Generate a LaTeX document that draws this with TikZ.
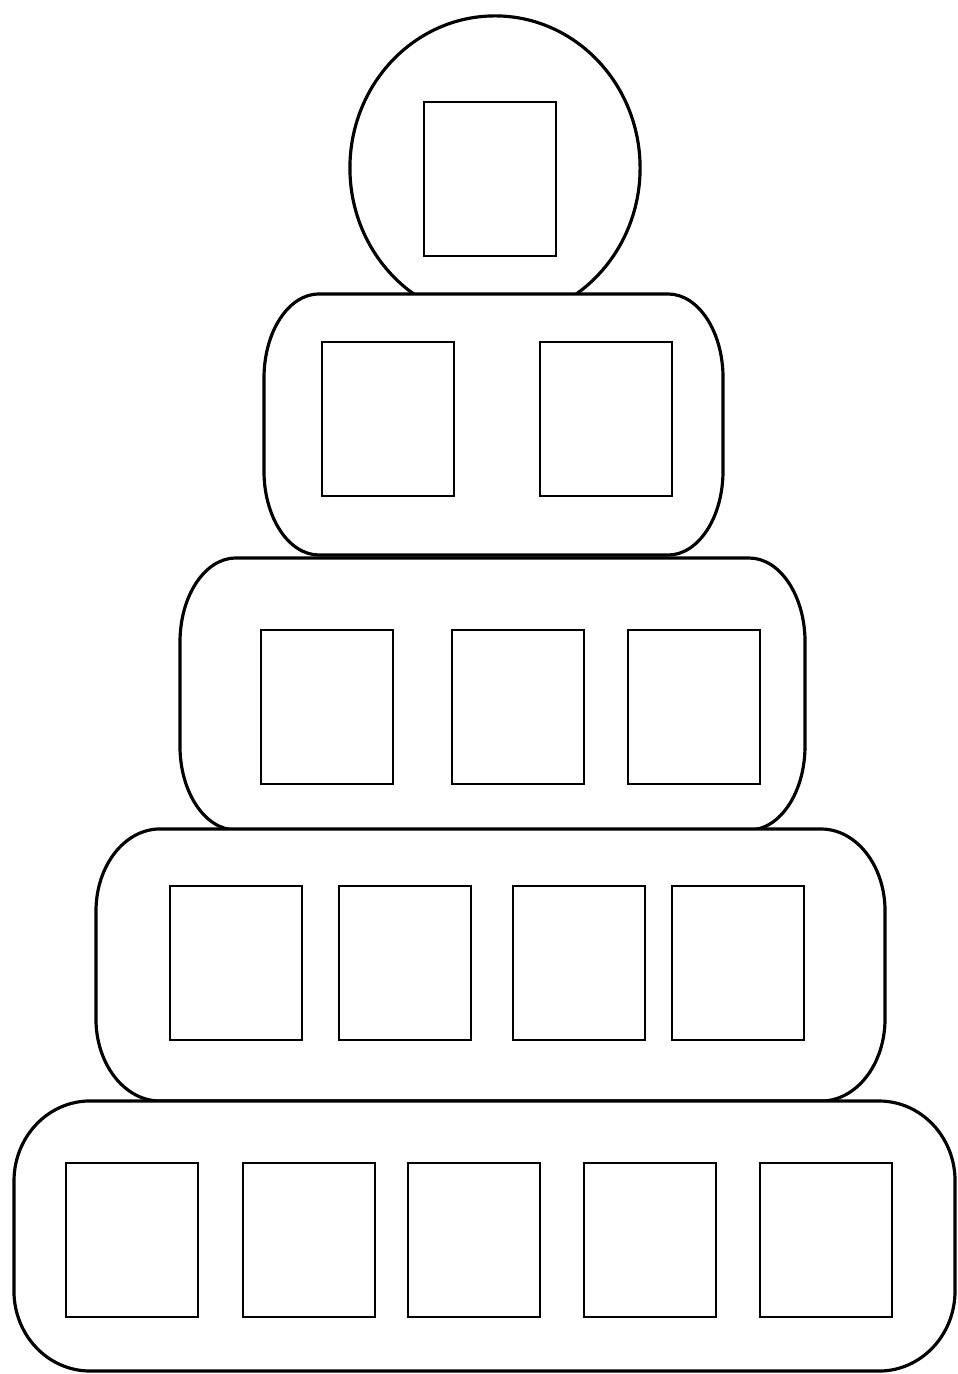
\documentclass[tikz,border=0pt]{standalone}
% one ring of the stack: corners x1,y1,x2,y2 and corner radii rx,ry (cm)
\newcommand{\ringpath}[6]{%
  \draw[ring] (#1,#2+#6*100) arc[start angle=180,end angle=90,x radius=#5cm,y radius=#6cm]
    -- (#3-#5*100,#2) arc[start angle=90,end angle=0,x radius=#5cm,y radius=#6cm]
    -- (#3,#4-#6*100) arc[start angle=0,end angle=-90,x radius=#5cm,y radius=#6cm]
    -- (#1+#5*100,#4) arc[start angle=-90,end angle=-180,x radius=#5cm,y radius=#6cm]
    -- cycle;}
\begin{document}
\begin{tikzpicture}[x=0.01cm,y=-0.01cm]
\tikzset{ring/.style={draw,line width=0.9pt,fill=white},
         slot/.style={draw,line width=0.6pt}}
\useasboundingbox (0,0) rectangle (957,1374);

% top ball
\draw[line width=0.9pt,fill=white] (495,168) ellipse [x radius=1.45cm,y radius=1.52cm];
\draw[slot] (424,102) rectangle (556,256);

% rings, top to bottom
\ringpath{264}{294}{723}{555}{0.55}{0.84}
\draw[slot] (322,342) rectangle (454,496);
\draw[slot] (540,342) rectangle (672,496);

\ringpath{180}{558}{805}{830}{0.56}{0.84}
\draw[slot] (261,630) rectangle (393,784);
\draw[slot] (452,630) rectangle (584,784);
\draw[slot] (628,630) rectangle (760,784);

\ringpath{96}{829}{885}{1101}{0.64}{0.82}
\draw[slot] (170,886) rectangle (302,1040);
\draw[slot] (339,886) rectangle (471,1040);
\draw[slot] (513,886) rectangle (645,1040);
\draw[slot] (672,886) rectangle (804,1040);

\ringpath{14}{1101}{955}{1371}{0.76}{0.8}
\foreach \x in {66,243,408,584,760}
  \draw[slot] (\x,1163) rectangle (\x+132,1317);
\end{tikzpicture}
\end{document}
